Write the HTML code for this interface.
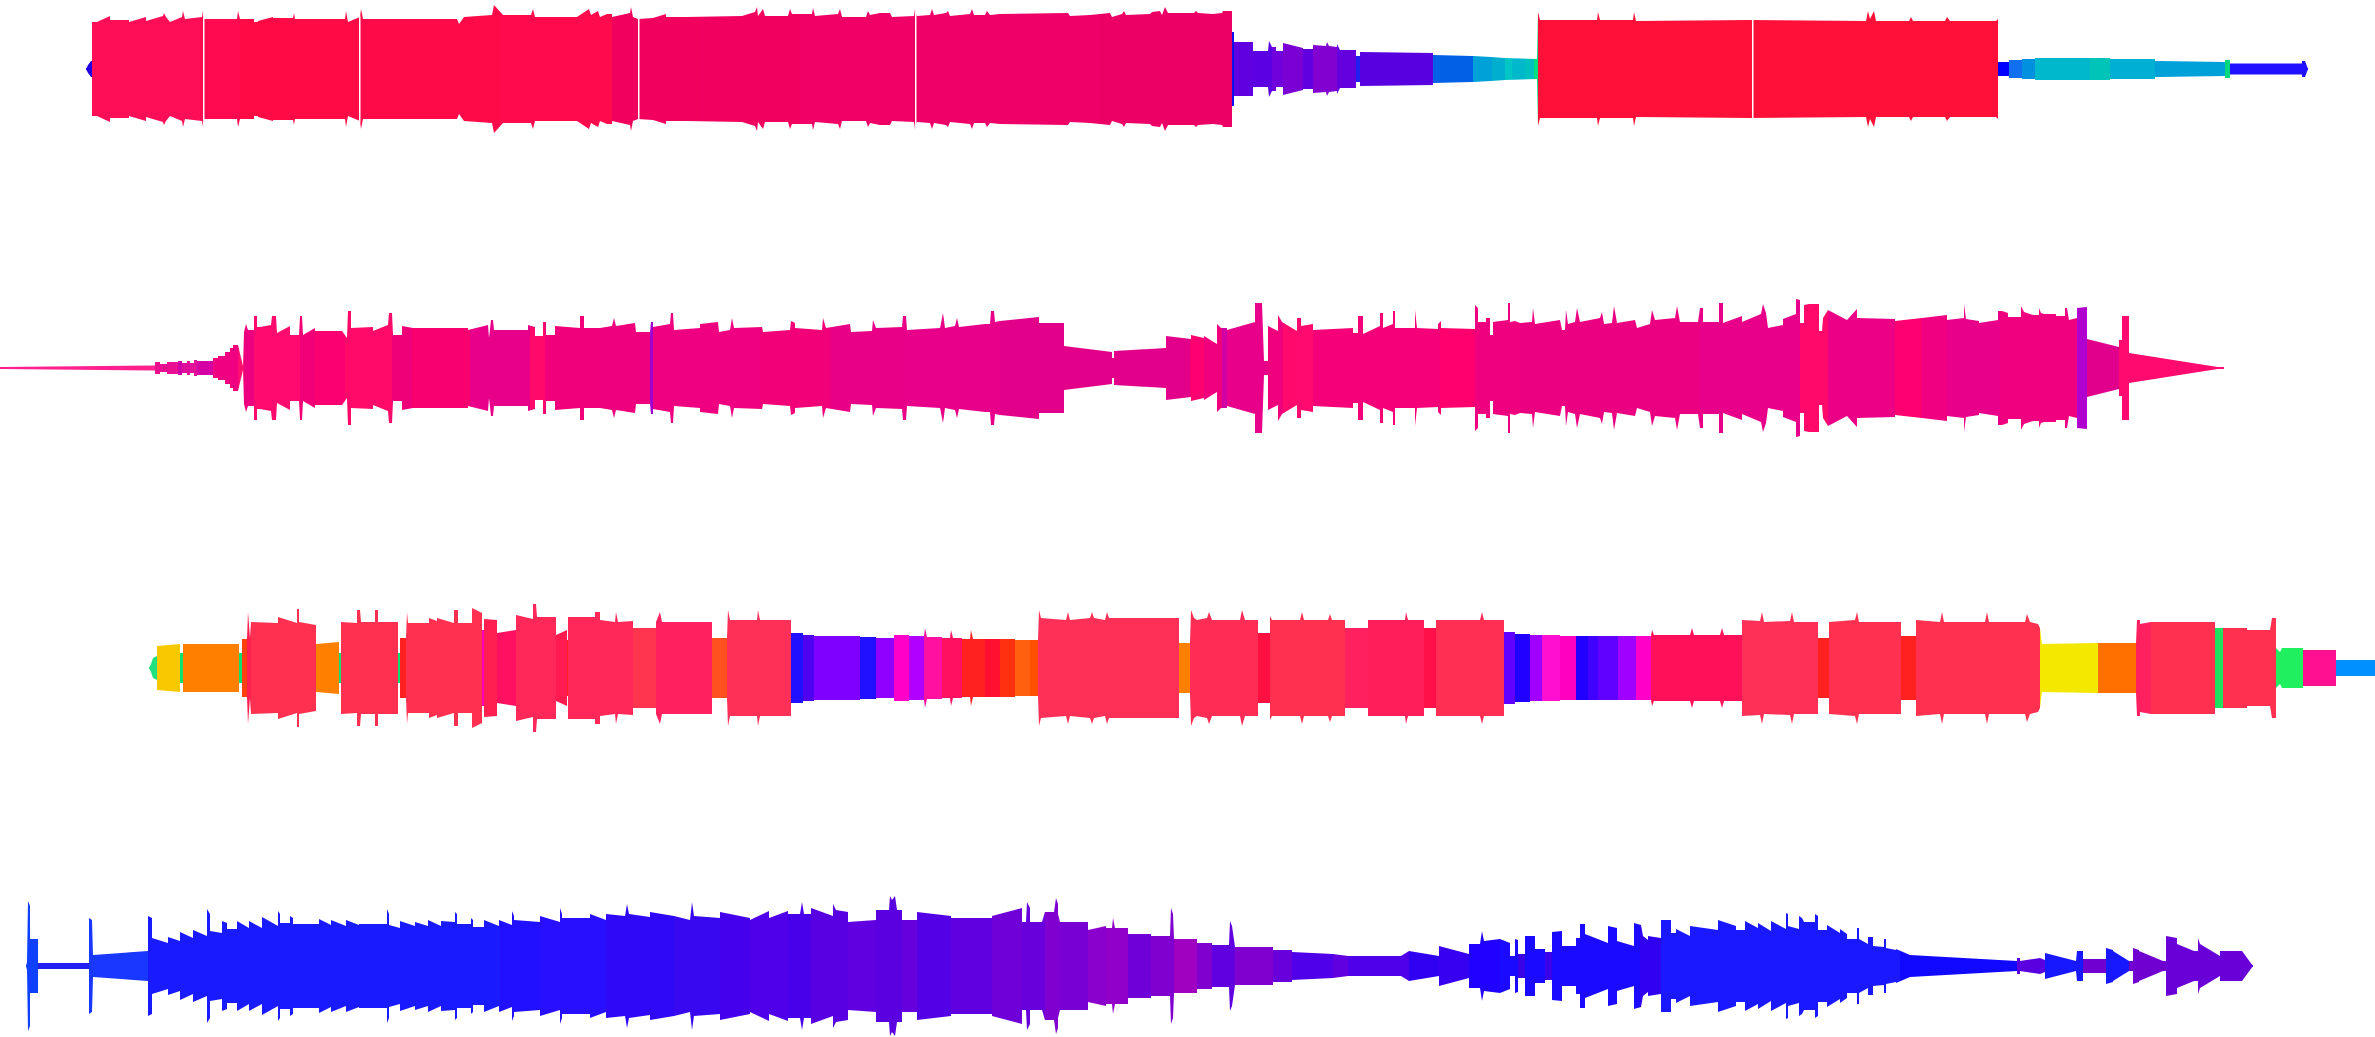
<!DOCTYPE html>
<html><head><meta charset="utf-8"><title>waveform</title>
<style>html,body{margin:0;padding:0;background:#fff;overflow:hidden}svg{display:block}</style></head>
<body>
<svg xmlns="http://www.w3.org/2000/svg" xmlns:xlink="http://www.w3.org/1999/xlink" width="2375" height="1037" viewBox="0 0 2375 1037">
<defs>
<clipPath id="c1"><path transform="translate(0,69)" d="M86,1 L86,0 L88,-4 L91,-8 L92,-8 L92,-47 L97,-47 L110,-53 L110,-49 L129,-49 L129,-47 L146,-52 L146,-48 L163,-53 L164,-56 L166,-52 L170,-47 L182,-52 L183,-58 L185,-50 L202,-52 L203,-58 L204,-50 L237,-50 L238,-58 L240,-50 L254,-50 L254,-47 L258,-47 L258,-48 L273,-52 L273,-51 L293,-51 L294,-56 L295,-50 L345,-50 L346,-58 L348,-47 L360,-52 L361,-60 L363,-50 L457,-50 L459,-45 L464,-52 L492,-54 L494,-64 L503,-54 L531,-54 L533,-60 L535,-52 L546,-52 L577,-52 L583,-56 L589,-60 L591,-54 L598,-58 L600,-52 L607,-55 L612,-55 L612,-52 L630,-56 L631,-62 L633,-52 L638,-50 L653,-51 L666,-55 L666,-52 L686,-52 L742,-53 L755,-57 L757,-62 L758,-53 L763,-60 L765,-53 L788,-53 L790,-60 L792,-55 L812,-55 L813,-61 L815,-53 L838,-55 L840,-60 L842,-52 L866,-52 L868,-58 L870,-54 L880,-56 L890,-56 L892,-52 L914,-53 L915,-60 L917,-53 L930,-54 L932,-60 L934,-54 L946,-56 L948,-58 L950,-53 L970,-55 L972,-60 L974,-54 L985,-54 L987,-58 L990,-54 L1000,-55 L1068,-56 L1070,-53 L1090,-54 L1110,-56 L1112,-52 L1122,-55 L1124,-58 L1126,-54 L1150,-55 L1152,-57 L1160,-58 L1162,-54 L1165,-62 L1168,-56 L1194,-56 L1196,-58 L1198,-56 L1213,-55 L1222,-56 L1223,-58 L1232,-58 L1232,-37 L1234,-37 L1234,-27 L1253,-27 L1253,-18 L1268,-18 L1269,-28 L1272,-22 L1276,-22 L1276,-18 L1283,-18 L1283,-26 L1303,-21 L1303,-20 L1313,-20 L1313,-24 L1326,-23 L1327,-27 L1329,-23 L1337,-22 L1337,-25 L1340,-19 L1356,-19 L1356,-13 L1360,-13 L1360,-17 L1433,-16 L1433,-14 L1472,-13 L1473,-13 L1491,-12 L1505,-11 L1537,-10 L1538,-57 L1540,-49 L1597,-49 L1598,-57 L1600,-49 L1633,-49 L1634,-57 L1636,-48 L1750,-49 L1866,-48 L1868,-58 L1870,-50 L1874,-58 L1876,-48 L1909,-48 L1911,-52 L1913,-48 L1945,-48 L1947,-52 L1950,-48 L1996,-48 L1998,-50 L1998,-7 L2009,-7 L2009,-9 L2022,-9 L2022,-10 L2035,-10 L2035,-11 L2110,-11 L2110,-10 L2155,-10 L2155,-8 L2225,-7 L2225,-9 L2230,-9 L2230,-5.5 L2302,-5.5 L2302,-8 L2305,-8 L2308,0 L2308,1 Z"/></clipPath>

<clipPath id="c2"><path transform="translate(0,368)" d="M0,1 L0,-1 L155,-2.5 L155,-6 L160,-6 L160,-4 L167,-4 L167,-6 L178,-6 L178,-7 L182,-7 L182,-5 L187,-5 L187,-7 L190,-7 L190,-5 L194,-5 L194,-8 L197,-8 L197,-7 L213,-7 L213,-10 L218,-10 L218,-12 L225,-12 L225,-16 L230,-16 L230,-20 L233,-20 L233,-23 L238,-23 L243,-2 L244,-36 L246,-44 L248,-38 L254,-38 L254,-52 L257,-52 L257,-41 L260,-41 L271,-43 L272,-52 L276,-52 L277,-35 L290,-42 L290,-33 L299,-33 L300,-52 L302,-52 L303,-33 L315,-40 L315,-37 L342,-37 L347,-30 L348,-57 L351,-57 L351,-40 L373,-41 L373,-37 L388,-43 L389,-55 L392,-55 L393,-33 L402,-33 L402,-42 L413,-40 L468,-40 L468,-38 L488,-43 L489,-30 L491,-48 L493,-48 L494,-38 L528,-38 L528,-43 L535,-41 L535,-32 L543,-32 L543,-46 L546,-46 L546,-33 L555,-33 L555,-42 L580,-40 L580,-52 L584,-52 L584,-40 L600,-40 L612,-42 L614,-50 L616,-42 L635,-45 L636,-36 L650,-36 L651,-46 L653,-46 L653,-41 L670,-44 L671,-55 L673,-55 L674,-38 L700,-40 L700,-44 L718,-46 L719,-36 L730,-38 L732,-50 L734,-40 L762,-41 L763,-36 L790,-38 L791,-47 L795,-45 L795,-40 L822,-38 L823,-50 L826,-40 L850,-44 L851,-36 L872,-37 L873,-48 L876,-40 L902,-41 L903,-52 L906,-52 L907,-38 L940,-40 L943,-55 L945,-40 L955,-42 L957,-50 L959,-41 L985,-44 L990,-44 L991,-57 L994,-57 L995,-46 L1000,-47 L1039,-51 L1039,-45 L1064,-45 L1064,-22 L1112,-16 L1112,-10 L1114,-10 L1114,-17 L1166,-20 L1166,-32 L1191,-29 L1191,-33 L1204,-30 L1204,-32 L1217,-24 L1217,-44 L1221,-40 L1227,-40 L1227,-38 L1255,-46 L1255,-65 L1262,-65 L1264,-7 L1268,-7 L1268,-42 L1278,-37 L1278,-53 L1282,-46 L1297,-37 L1297,-50 L1301,-50 L1301,-42 L1313,-44 L1313,-38 L1353,-40 L1353,-35 L1358,-35 L1358,-52 L1363,-52 L1363,-34 L1380,-42 L1380,-55 L1383,-55 L1383,-40 L1393,-44 L1393,-57 L1395,-57 L1395,-40 L1415,-40 L1415,-58 L1417,-40 L1438,-39 L1438,-44 L1441,-47 L1441,-40 L1475,-39 L1475,-63 L1478,-60 L1478,-46 L1486,-46 L1486,-50 L1490,-50 L1490,-33 L1493,-33 L1493,-46 L1508,-48 L1508,-65 L1510,-65 L1510,-46 L1515,-47 L1520,-45 L1532,-46 L1533,-60 L1535,-44 L1560,-48 L1562,-38 L1565,-38 L1566,-58 L1568,-44 L1575,-46 L1577,-60 L1580,-46 L1600,-50 L1602,-56 L1604,-44 L1612,-45 L1614,-62 L1617,-45 L1635,-48 L1637,-40 L1650,-44 L1652,-58 L1655,-48 L1675,-50 L1677,-62 L1680,-46 L1698,-46 L1700,-60 L1703,-60 L1703,-46 L1719,-46 L1719,-65 L1723,-65 L1723,-45 L1742,-52 L1742,-46 L1761,-54 L1763,-64 L1766,-55 L1768,-40 L1783,-43 L1783,-49 L1796,-54 L1796,-69 L1800,-68 L1800,-45 L1804,-45 L1804,-63 L1809,-64 L1819,-64 L1819,-37 L1822,-37 L1823,-50 L1828,-58 L1847,-48 L1857,-59 L1857,-50 L1895,-49 L1895,-47 L1922,-50 L1947,-53 L1947,-48 L1964,-50 L1964,-64 L1966,-49 L1979,-47 L1979,-45 L1998,-48 L1998,-57 L2002,-57 L2008,-55 L2008,-51 L2021,-51 L2021,-62 L2024,-56 L2027,-55 L2033,-53 L2039,-53 L2039,-60 L2041,-55 L2044,-54 L2056,-54 L2056,-52 L2065,-52 L2065,-60 L2067,-60 L2069,-48 L2077,-50 L2077,-60 L2087,-61 L2087,-29 L2119,-21 L2119,-28 L2122,-28 L2122,-52 L2129,-52 L2129,-15 L2224,0 L2224,1 Z"/></clipPath>

<clipPath id="c3"><path transform="translate(0,668)" d="M149,1 L149,0 L151,-4 L153,-10 L157,-12 L157,-22 L180,-24 L180,-15 L183,-15 L183,-24 L239,-24 L239,-15 L242,-15 L242,-29 L247,-29 L248,-56 L250,-30 L251,-46 L278,-45 L278,-51 L297,-45 L297,-59 L299,-59 L299,-46 L316,-43 L316,-24 L339,-26 L339,-15 L341,-15 L341,-46 L357,-45 L357,-58 L360,-58 L361,-46 L375,-46 L375,-58 L378,-58 L378,-46 L398,-46 L398,-15 L400,-15 L400,-30 L406,-30 L407,-56 L408,-45 L429,-45 L429,-50 L437,-47 L437,-50 L454,-45 L454,-58 L458,-58 L458,-45 L472,-45 L472,-60 L482,-55 L482,-38 L484,-38 L484,-49 L497,-48 L497,-35 L516,-38 L516,-53 L533,-49 L533,-64 L536,-64 L537,-51 L556,-51 L556,-33 L567,-38 L567,-28 L568,-28 L568,-51 L595,-51 L595,-56 L600,-56 L600,-48 L615,-46 L616,-56 L618,-46 L633,-47 L633,-40 L656,-40 L656,-46 L660,-56 L662,-46 L712,-46 L712,-30 L727,-30 L728,-58 L730,-48 L757,-48 L758,-58 L760,-48 L791,-48 L791,-35 L803,-35 L803,-33 L814,-33 L814,-32 L860,-32 L860,-31 L876,-31 L876,-30 L894,-30 L894,-33 L909,-33 L909,-32 L924,-32 L925,-40 L927,-31 L942,-31 L942,-30 L950,-30 L951,-38 L953,-30 L962,-30 L962,-29 L970,-29 L971,-38 L973,-29 L985,-29 L1015,-29 L1015,-28 L1038,-28 L1039,-58 L1041,-50 L1066,-48 L1068,-56 L1070,-48 L1090,-50 L1092,-56 L1094,-50 L1105,-48 L1107,-56 L1109,-50 L1179,-50 L1179,-25 L1190,-25 L1191,-58 L1194,-50 L1197,-48 L1207,-50 L1209,-56 L1212,-48 L1240,-48 L1242,-58 L1245,-48 L1258,-48 L1258,-35 L1270,-35 L1270,-52 L1272,-48 L1300,-48 L1302,-56 L1304,-48 L1328,-48 L1330,-54 L1332,-48 L1345,-48 L1345,-40 L1368,-40 L1368,-48 L1405,-48 L1406,-56 L1408,-48 L1424,-48 L1424,-40 L1436,-40 L1436,-48 L1480,-48 L1482,-56 L1484,-48 L1504,-48 L1504,-36 L1515,-36 L1515,-34 L1530,-34 L1530,-33 L1560,-33 L1560,-32 L1651,-32 L1652,-38 L1654,-33 L1690,-33 L1692,-40 L1694,-33 L1720,-33 L1722,-40 L1724,-33 L1742,-33 L1742,-48 L1760,-47 L1762,-56 L1764,-46 L1790,-47 L1792,-56 L1794,-46 L1818,-46 L1818,-30 L1829,-30 L1829,-46 L1855,-48 L1857,-56 L1859,-46 L1901,-46 L1901,-32 L1916,-32 L1916,-48 L1940,-46 L1942,-56 L1944,-46 L1985,-46 L1987,-56 L1989,-46 L2025,-46 L2027,-54 L2030,-46 L2038,-44 L2040,-40 L2042,-24 L2098,-25 L2136,-25 L2137,-48 L2140,-48 L2140,-44 L2151,-46 L2215,-46 L2215,-40 L2247,-40 L2247,-38 L2270,-38 L2272,-50 L2276,-50 L2276,-20 L2280,-16 L2282,-20 L2303,-20 L2303,-18 L2336,-18 L2336,-8 L2375,-8 L2375,1 Z"/></clipPath>

<clipPath id="c4"><path transform="translate(0,966)" d="M26,1 L26,0 L27,-4 L28,-65 L30,-60 L30,-27 L38,-27 L38,-3 L89,-3 L89,-48 L92,-46 L93,-11 L148,-15 L148,-50 L152,-48 L152,-28 L168,-23 L168,-29 L180,-25 L180,-34 L193,-28 L193,-36 L207,-30 L207,-57 L210,-52 L210,-35 L222,-33 L222,-45 L227,-43 L227,-37 L237,-37 L237,-45 L249,-38 L249,-45 L262,-38 L262,-49 L278,-40 L278,-55 L280,-52 L280,-43 L290,-43 L290,-50 L293,-48 L293,-42 L319,-42 L319,-47 L331,-41 L331,-46 L346,-40 L346,-46 L359,-41 L359,-42 L387,-42 L387,-57 L389,-52 L389,-41 L400,-38 L400,-45 L415,-40 L415,-44 L428,-40 L428,-46 L441,-40 L441,-45 L455,-44 L455,-54 L457,-52 L457,-42 L471,-42 L471,-48 L473,-46 L473,-39 L484,-39 L484,-46 L499,-40 L499,-46 L512,-41 L512,-55 L514,-50 L514,-46 L540,-44 L540,-50 L560,-44 L560,-58 L562,-52 L562,-48 L590,-48 L590,-52 L606,-46 L606,-52 L625,-50 L627,-62 L629,-52 L650,-49 L650,-54 L674,-50 L690,-46 L692,-64 L694,-50 L720,-48 L720,-54 L750,-48 L750,-46 L769,-55 L769,-48 L788,-55 L788,-52 L800,-52 L802,-64 L804,-52 L811,-52 L811,-58 L833,-50 L833,-62 L836,-56 L848,-54 L848,-44 L876,-46 L876,-56 L889,-56 L890,-70 L892,-66 L895,-70 L897,-56 L902,-56 L902,-46 L917,-46 L917,-54 L951,-50 L951,-48 L992,-48 L992,-50 L1022,-58 L1022,-44 L1026,-44 L1027,-64 L1030,-58 L1030,-44 L1042,-44 L1045,-54 L1054,-54 L1056,-68 L1058,-62 L1058,-52 L1060,-44 L1088,-44 L1088,-36 L1106,-40 L1106,-38 L1112,-38 L1113,-48 L1115,-38 L1128,-38 L1128,-32 L1151,-32 L1151,-30 L1170,-30 L1171,-58 L1173,-52 L1174,-27 L1197,-27 L1197,-23 L1212,-23 L1212,-21 L1229,-21 L1230,-45 L1232,-40 L1235,-19 L1273,-19 L1273,-16 L1292,-16 L1292,-14 L1333,-12 L1348,-10 L1401,-10 L1409,-15 L1439,-10 L1439,-20 L1469,-12 L1469,-22 L1480,-22 L1482,-35 L1484,-25 L1500,-27 L1510,-23 L1510,-10 L1515,-10 L1515,-27 L1518,-26 L1518,-12 L1525,-12 L1525,-30 L1535,-30 L1535,-17 L1545,-17 L1545,-14 L1552,-14 L1552,-34 L1562,-35 L1562,-20 L1576,-20 L1576,-28 L1580,-28 L1580,-42 L1585,-42 L1585,-32 L1608,-23 L1608,-40 L1617,-38 L1617,-25 L1634,-20 L1634,-43 L1641,-41 L1643,-30 L1648,-26 L1648,-30 L1661,-28 L1661,-46 L1671,-46 L1671,-33 L1676,-33 L1676,-37 L1690,-30 L1690,-40 L1718,-36 L1718,-46 L1736,-40 L1736,-36 L1745,-36 L1745,-45 L1758,-38 L1758,-43 L1771,-35 L1771,-45 L1786,-37 L1786,-53 L1788,-52 L1788,-40 L1799,-37 L1799,-50 L1802,-48 L1804,-44 L1815,-44 L1815,-52 L1818,-50 L1818,-36 L1827,-36 L1827,-41 L1840,-33 L1840,-37 L1847,-32 L1847,-27 L1857,-27 L1857,-38 L1859,-38 L1859,-27 L1868,-22 L1868,-29 L1873,-29 L1873,-20 L1884,-19 L1884,-27 L1886,-27 L1886,-18 L1896,-16 L1896,-17 L1910,-11 L2017,-5 L2017,-8 L2020,-8 L2020,-5 L2040,-8 L2045,-6 L2045,-13 L2076,-5 L2077,-15 L2083,-15 L2083,-7 L2106,-7 L2106,-18 L2113,-16 L2113,-15 L2129,-5 L2133,-5 L2133,-18 L2139,-16 L2139,-15 L2163,-5 L2166,-5 L2166,-30 L2177,-28 L2177,-22 L2194,-15 L2198,-15 L2198,-28 L2200,-22 L2220,-10 L2220,-15 L2242,-15 L2253,0 L2253,1 Z"/></clipPath>
</defs>

<g id="r1" clip-path="url(#c1)">
<rect x="86" y="0" width="6" height="140" fill="#2000e0"/>
<rect x="92" y="0" width="108" height="140" fill="#ff0e58"/>
<rect x="200" y="0" width="40" height="140" fill="#ff0a50"/>
<rect x="240" y="0" width="120" height="140" fill="#ff0a44"/>
<rect x="360" y="0" width="140" height="140" fill="#ff0a48"/>
<rect x="500" y="0" width="112" height="140" fill="#ff0a4c"/>
<rect x="612" y="0" width="88" height="140" fill="#f2005e"/>
<rect x="700" y="0" width="100" height="140" fill="#f20060"/>
<rect x="800" y="0" width="120" height="140" fill="#f00066"/>
<rect x="920" y="0" width="180" height="140" fill="#ee0068"/>
<rect x="1100" y="0" width="132" height="140" fill="#ec0066"/>
<rect x="1232" y="0" width="2" height="140" fill="#1010ee"/>
<rect x="1234" y="0" width="19" height="140" fill="#6000e0"/>
<rect x="1253" y="0" width="19" height="140" fill="#5a00e2"/>
<rect x="1272" y="0" width="11" height="140" fill="#7000dc"/>
<rect x="1283" y="0" width="20" height="140" fill="#7a00d4"/>
<rect x="1303" y="0" width="10" height="140" fill="#6000e0"/>
<rect x="1313" y="0" width="24" height="140" fill="#8200d0"/>
<rect x="1337" y="0" width="19" height="140" fill="#6400de"/>
<rect x="1356" y="0" width="4" height="140" fill="#2020f0"/>
<rect x="1360" y="0" width="73" height="140" fill="#5800e0"/>
<rect x="1433" y="0" width="40" height="140" fill="#0060e6"/>
<rect x="1473" y="0" width="19" height="140" fill="#00a0d8"/>
<rect x="1492" y="0" width="13" height="140" fill="#00aed0"/>
<rect x="1505" y="0" width="7" height="140" fill="#00c6c6"/>
<rect x="1512" y="0" width="13" height="140" fill="#00b8cc"/>
<rect x="1525" y="0" width="9" height="140" fill="#00c0c0"/>
<rect x="1534" y="0" width="4" height="140" fill="#00e080"/>
<rect x="1538" y="0" width="460" height="140" fill="#ff1038"/>
<rect x="1998" y="0" width="11" height="140" fill="#0000ff"/>
<rect x="2009" y="0" width="13" height="140" fill="#1070f0"/>
<rect x="2022" y="0" width="13" height="140" fill="#0090e0"/>
<rect x="2035" y="0" width="55" height="140" fill="#00b8cc"/>
<rect x="2090" y="0" width="20" height="140" fill="#00c4b8"/>
<rect x="2110" y="0" width="45" height="140" fill="#00b0d4"/>
<rect x="2155" y="0" width="70" height="140" fill="#00a0d8"/>
<rect x="2225" y="0" width="5" height="140" fill="#00d880"/>
<rect x="2230" y="0" width="80" height="140" fill="#2010ff"/>
<rect x="203" y="0" width="1.5" height="140" fill="#fff"/>
<rect x="359" y="0" width="1.5" height="140" fill="#fff"/>
<rect x="638" y="0" width="1.5" height="140" fill="#fff"/>
<rect x="915" y="0" width="1.5" height="140" fill="#fff"/>
<rect x="1752" y="0" width="1.5" height="140" fill="#fff"/>
</g>
<use xlink:href="#r1" href="#r1" transform="matrix(1 0 0 -1 0 138)"/>

<g id="r2" clip-path="url(#c2)">
<rect x="0" y="290" width="155" height="160" fill="#ff2090"/>
<rect x="155" y="290" width="23" height="160" fill="#e81090"/>
<rect x="178" y="290" width="4" height="160" fill="#d000a8"/>
<rect x="182" y="290" width="15" height="160" fill="#e0109a"/>
<rect x="197" y="290" width="16" height="160" fill="#d400a4"/>
<rect x="213" y="290" width="25" height="160" fill="#f00080"/>
<rect x="238" y="290" width="6" height="160" fill="#ff1070"/>
<rect x="244" y="290" width="10" height="160" fill="#ec0080"/>
<rect x="254" y="290" width="46" height="160" fill="#ff0a6e"/>
<rect x="300" y="290" width="15" height="160" fill="#f20078"/>
<rect x="315" y="290" width="30" height="160" fill="#fa0070"/>
<rect x="345" y="290" width="47" height="160" fill="#ff0a68"/>
<rect x="392" y="290" width="20" height="160" fill="#f00078"/>
<rect x="412" y="290" width="58" height="160" fill="#f8006e"/>
<rect x="470" y="290" width="60" height="160" fill="#e8008a"/>
<rect x="530" y="290" width="15" height="160" fill="#ff0a6a"/>
<rect x="545" y="290" width="55" height="160" fill="#f0007a"/>
<rect x="600" y="290" width="50" height="160" fill="#ee007c"/>
<rect x="650" y="290" width="3" height="160" fill="#a000d0"/>
<rect x="653" y="290" width="107" height="160" fill="#ee0080"/>
<rect x="760" y="290" width="70" height="160" fill="#f20078"/>
<rect x="830" y="290" width="75" height="160" fill="#e80086"/>
<rect x="905" y="290" width="95" height="160" fill="#e8008a"/>
<rect x="1000" y="290" width="190" height="160" fill="#e2008a"/>
<rect x="1190" y="290" width="14" height="160" fill="#ff0070"/>
<rect x="1204" y="290" width="18" height="160" fill="#f0007c"/>
<rect x="1222" y="290" width="5" height="160" fill="#d000a4"/>
<rect x="1227" y="290" width="41" height="160" fill="#e8008a"/>
<rect x="1268" y="290" width="15" height="160" fill="#f0007c"/>
<rect x="1283" y="290" width="14" height="160" fill="#ff0a6c"/>
<rect x="1297" y="290" width="16" height="160" fill="#ff0a6e"/>
<rect x="1313" y="290" width="127" height="160" fill="#f50078"/>
<rect x="1440" y="290" width="35" height="160" fill="#ff006e"/>
<rect x="1475" y="290" width="45" height="160" fill="#ee007e"/>
<rect x="1520" y="290" width="180" height="160" fill="#ec0082"/>
<rect x="1700" y="290" width="100" height="160" fill="#e8008a"/>
<rect x="1800" y="290" width="28" height="160" fill="#ff0a6a"/>
<rect x="1828" y="290" width="67" height="160" fill="#ec0086"/>
<rect x="1895" y="290" width="27" height="160" fill="#ff0070"/>
<rect x="1922" y="290" width="25" height="160" fill="#f00080"/>
<rect x="1947" y="290" width="53" height="160" fill="#e8008a"/>
<rect x="2000" y="290" width="77" height="160" fill="#f0007e"/>
<rect x="2077" y="290" width="10" height="160" fill="#b000d0"/>
<rect x="2087" y="290" width="32" height="160" fill="#e0008c"/>
<rect x="2119" y="290" width="110" height="160" fill="#ff0a6e"/>
</g>
<use xlink:href="#r2" href="#r2" transform="matrix(1 0 0 -1 0 736)"/>

<g id="r3" clip-path="url(#c3)">
<rect x="149" y="590" width="8" height="160" fill="#20e080"/>
<rect x="157" y="590" width="23" height="160" fill="#f8c800"/>
<rect x="180" y="590" width="3" height="160" fill="#10e070"/>
<rect x="183" y="590" width="56" height="160" fill="#ff7f00"/>
<rect x="239" y="590" width="3" height="160" fill="#10e070"/>
<rect x="242" y="590" width="5" height="160" fill="#ff4010"/>
<rect x="247" y="590" width="4" height="160" fill="#ff2050"/>
<rect x="251" y="590" width="65" height="160" fill="#ff3050"/>
<rect x="316" y="590" width="23" height="160" fill="#ff7f00"/>
<rect x="339" y="590" width="2" height="160" fill="#10e070"/>
<rect x="341" y="590" width="57" height="160" fill="#ff3050"/>
<rect x="398" y="590" width="2" height="160" fill="#10e070"/>
<rect x="400" y="590" width="6" height="160" fill="#ff2020"/>
<rect x="406" y="590" width="76" height="160" fill="#ff3050"/>
<rect x="482" y="590" width="2" height="160" fill="#ff00c0"/>
<rect x="484" y="590" width="13" height="160" fill="#ff2050"/>
<rect x="497" y="590" width="19" height="160" fill="#ff1060"/>
<rect x="516" y="590" width="40" height="160" fill="#ff2858"/>
<rect x="556" y="590" width="11" height="160" fill="#ff1a50"/>
<rect x="567" y="590" width="1" height="160" fill="#ff2020"/>
<rect x="568" y="590" width="65" height="160" fill="#ff2858"/>
<rect x="633" y="590" width="23" height="160" fill="#ff3550"/>
<rect x="656" y="590" width="56" height="160" fill="#ff2060"/>
<rect x="712" y="590" width="15" height="160" fill="#ff5020"/>
<rect x="727" y="590" width="64" height="160" fill="#ff3058"/>
<rect x="791" y="590" width="12" height="160" fill="#2010ff"/>
<rect x="803" y="590" width="11" height="160" fill="#5000f0"/>
<rect x="814" y="590" width="46" height="160" fill="#8000ff"/>
<rect x="860" y="590" width="16" height="160" fill="#2010ff"/>
<rect x="876" y="590" width="18" height="160" fill="#9000ff"/>
<rect x="894" y="590" width="15" height="160" fill="#ff00c8"/>
<rect x="909" y="590" width="15" height="160" fill="#b000ff"/>
<rect x="924" y="590" width="18" height="160" fill="#ff10a0"/>
<rect x="942" y="590" width="20" height="160" fill="#ff1060"/>
<rect x="962" y="590" width="23" height="160" fill="#ff2020"/>
<rect x="985" y="590" width="15" height="160" fill="#ff1030"/>
<rect x="1000" y="590" width="15" height="160" fill="#ff3010"/>
<rect x="1015" y="590" width="15" height="160" fill="#ff6010"/>
<rect x="1030" y="590" width="8" height="160" fill="#ff5000"/>
<rect x="1038" y="590" width="141" height="160" fill="#ff3058"/>
<rect x="1179" y="590" width="11" height="160" fill="#ff8000"/>
<rect x="1190" y="590" width="68" height="160" fill="#ff2d55"/>
<rect x="1258" y="590" width="12" height="160" fill="#ff1040"/>
<rect x="1270" y="590" width="75" height="160" fill="#ff3050"/>
<rect x="1345" y="590" width="23" height="160" fill="#ff2060"/>
<rect x="1368" y="590" width="56" height="160" fill="#ff1e5a"/>
<rect x="1424" y="590" width="12" height="160" fill="#ff1048"/>
<rect x="1436" y="590" width="68" height="160" fill="#ff2e52"/>
<rect x="1504" y="590" width="11" height="160" fill="#6000ff"/>
<rect x="1515" y="590" width="15" height="160" fill="#2000ff"/>
<rect x="1530" y="590" width="12" height="160" fill="#a000ff"/>
<rect x="1542" y="590" width="18" height="160" fill="#ff10d0"/>
<rect x="1560" y="590" width="16" height="160" fill="#ff00c0"/>
<rect x="1576" y="590" width="12" height="160" fill="#2000ff"/>
<rect x="1588" y="590" width="10" height="160" fill="#4000ff"/>
<rect x="1598" y="590" width="20" height="160" fill="#6000ff"/>
<rect x="1618" y="590" width="18" height="160" fill="#a000ff"/>
<rect x="1636" y="590" width="15" height="160" fill="#ff00c8"/>
<rect x="1651" y="590" width="91" height="160" fill="#ff1058"/>
<rect x="1742" y="590" width="76" height="160" fill="#ff3058"/>
<rect x="1818" y="590" width="11" height="160" fill="#ff2020"/>
<rect x="1829" y="590" width="72" height="160" fill="#ff3050"/>
<rect x="1901" y="590" width="15" height="160" fill="#ff2020"/>
<rect x="1916" y="590" width="124" height="160" fill="#ff3050"/>
<rect x="2040" y="590" width="58" height="160" fill="#f5e800"/>
<rect x="2098" y="590" width="38" height="160" fill="#ff7000"/>
<rect x="2136" y="590" width="15" height="160" fill="#ff2060"/>
<rect x="2151" y="590" width="64" height="160" fill="#ff3050"/>
<rect x="2215" y="590" width="8" height="160" fill="#20e060"/>
<rect x="2223" y="590" width="53" height="160" fill="#ff3050"/>
<rect x="2276" y="590" width="27" height="160" fill="#20f060"/>
<rect x="2303" y="590" width="33" height="160" fill="#ff1090"/>
<rect x="2336" y="590" width="39" height="160" fill="#0090ff"/>
</g>
<use xlink:href="#r3" href="#r3" transform="matrix(1 0 0 -1 0 1336)"/>

<g id="r4" clip-path="url(#c4)">
<rect x="26" y="880" width="12" height="160" fill="#1040ff"/>
<rect x="38" y="880" width="51" height="160" fill="#2020f0"/>
<rect x="89" y="880" width="59" height="160" fill="#1838ff"/>
<rect x="148" y="880" width="352" height="160" fill="#1a1aff"/>
<rect x="500" y="880" width="40" height="160" fill="#2010ff"/>
<rect x="540" y="880" width="66" height="160" fill="#2810ff"/>
<rect x="606" y="880" width="68" height="160" fill="#3008f8"/>
<rect x="674" y="880" width="46" height="160" fill="#3808f0"/>
<rect x="720" y="880" width="30" height="160" fill="#4400ec"/>
<rect x="750" y="880" width="38" height="160" fill="#5000e8"/>
<rect x="788" y="880" width="23" height="160" fill="#4800ea"/>
<rect x="811" y="880" width="37" height="160" fill="#5800e2"/>
<rect x="848" y="880" width="28" height="160" fill="#6000e0"/>
<rect x="876" y="880" width="26" height="160" fill="#5a00e0"/>
<rect x="902" y="880" width="15" height="160" fill="#6600dc"/>
<rect x="917" y="880" width="34" height="160" fill="#5400e6"/>
<rect x="951" y="880" width="41" height="160" fill="#6000e0"/>
<rect x="992" y="880" width="30" height="160" fill="#7000d8"/>
<rect x="1022" y="880" width="23" height="160" fill="#6800dc"/>
<rect x="1045" y="880" width="15" height="160" fill="#8000d0"/>
<rect x="1060" y="880" width="28" height="160" fill="#7800d4"/>
<rect x="1088" y="880" width="18" height="160" fill="#8a00cc"/>
<rect x="1106" y="880" width="22" height="160" fill="#9000c8"/>
<rect x="1128" y="880" width="23" height="160" fill="#7000d8"/>
<rect x="1151" y="880" width="23" height="160" fill="#8000d0"/>
<rect x="1174" y="880" width="23" height="160" fill="#a000c0"/>
<rect x="1197" y="880" width="15" height="160" fill="#8000d0"/>
<rect x="1212" y="880" width="23" height="160" fill="#6000e0"/>
<rect x="1235" y="880" width="38" height="160" fill="#8000d0"/>
<rect x="1273" y="880" width="19" height="160" fill="#6800dc"/>
<rect x="1292" y="880" width="41" height="160" fill="#5000e8"/>
<rect x="1333" y="880" width="15" height="160" fill="#6000e0"/>
<rect x="1348" y="880" width="61" height="160" fill="#5000e8"/>
<rect x="1409" y="880" width="30" height="160" fill="#3000f0"/>
<rect x="1439" y="880" width="30" height="160" fill="#3800f0"/>
<rect x="1469" y="880" width="31" height="160" fill="#2000ff"/>
<rect x="1500" y="880" width="18" height="160" fill="#1a0aff"/>
<rect x="1518" y="880" width="7" height="160" fill="#3a00e8"/>
<rect x="1525" y="880" width="20" height="160" fill="#1a0aff"/>
<rect x="1545" y="880" width="7" height="160" fill="#3a00e8"/>
<rect x="1552" y="880" width="88" height="160" fill="#1a0aff"/>
<rect x="1640" y="880" width="21" height="160" fill="#3000f0"/>
<rect x="1661" y="880" width="239" height="160" fill="#1a18ff"/>
<rect x="1900" y="880" width="117" height="160" fill="#1008ff"/>
<rect x="2017" y="880" width="28" height="160" fill="#5a00e0"/>
<rect x="2045" y="880" width="38" height="160" fill="#1818ff"/>
<rect x="2083" y="880" width="23" height="160" fill="#7000d0"/>
<rect x="2106" y="880" width="23" height="160" fill="#1818ff"/>
<rect x="2129" y="880" width="37" height="160" fill="#7000d0"/>
<rect x="2166" y="880" width="90" height="160" fill="#6a00d8"/>
</g>
<use xlink:href="#r4" href="#r4" transform="matrix(1 0 0 -1 0 1932)"/>
</svg>
</body></html>
